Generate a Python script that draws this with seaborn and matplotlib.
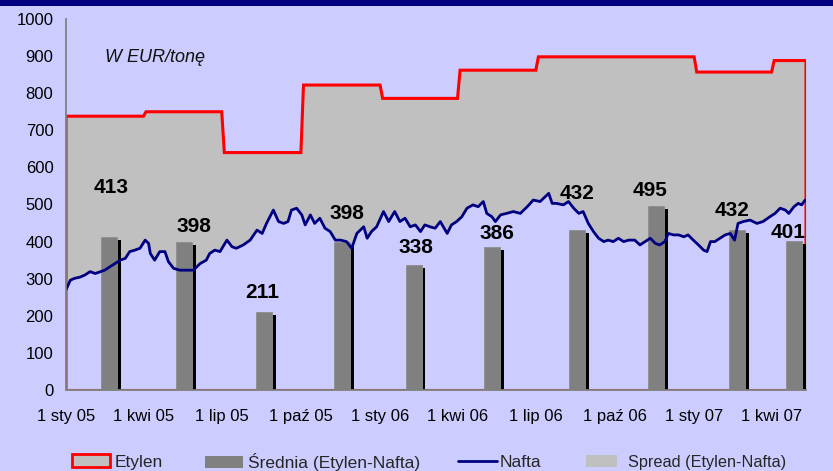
import numpy as np
import seaborn as sns
import matplotlib.pyplot as plt
from matplotlib.patches import Patch, Rectangle
from matplotlib.lines import Line2D

# days counted from 1 Jan 2005
tick_days = [0, 90, 181, 273, 365, 455, 546, 638, 730, 820]
tick_labels = ["1 sty 05", "1 kwi 05", "1 lip 05", "1 paź 05", "1 sty 06",
               "1 kwi 06", "1 lip 06", "1 paź 06", "1 sty 07", "1 kwi 07"]

# Etylen contract price per quarter (start day, price)
etylen_start = [0, 90, 181, 273, 365, 455, 546, 638, 730, 820]
etylen_price = [738, 750, 640, 822, 786, 862, 898, 898, 857, 888]
etylen_end = 860

# Nafta spot price
nafta_day = [0, 5, 10, 16, 22, 28, 34, 40, 45, 51,
             57, 63, 69, 74, 80, 86, 92, 96, 98, 103,
             109, 115, 119, 125, 132, 140, 148, 156, 163, 167,
             173, 179, 187, 193, 198, 206, 214, 222, 228, 233,
             241, 247, 253, 258, 262, 268, 274, 278, 284, 289,
             295, 301, 307, 313, 319, 326, 332, 338, 346, 350,
             355, 361, 369, 375, 382, 388, 394, 400, 406, 412,
             417, 423, 429, 435, 443, 448, 454, 460, 466, 473,
             479, 485, 489, 495, 499, 505, 512, 520, 528, 536,
             543, 551, 557, 561, 565, 570, 578, 584, 590, 596,
             601, 607, 613, 619, 625, 630, 636, 642, 648, 654,
             661, 667, 673, 679, 685, 690, 696, 700, 706, 712,
             718, 723, 729, 735, 741, 745, 749, 754, 760, 766,
             772, 777, 781, 787, 795, 803, 810, 818, 824, 830,
             836, 840, 846, 851, 855, 859]
nafta_val = [270, 296, 301, 304, 310, 319, 314, 319, 323, 332,
             341, 350, 355, 373, 377, 382, 404, 395, 368, 350,
             373, 373, 346, 328, 323, 323, 323, 341, 350, 368,
             377, 373, 404, 386, 382, 391, 404, 431, 422, 449,
             485, 454, 449, 454, 485, 490, 472, 445, 472, 449,
             463, 436, 427, 404, 404, 400, 382, 422, 440, 409,
             427, 440, 481, 454, 481, 454, 463, 440, 445, 427,
             445, 440, 436, 454, 422, 445, 454, 467, 490, 499,
             494, 508, 476, 467, 454, 472, 476, 481, 476, 494,
             512, 508, 521, 530, 503, 503, 499, 508, 490, 476,
             481, 449, 427, 409, 400, 404, 400, 409, 400, 404,
             404, 391, 400, 409, 395, 391, 400, 422, 418, 418,
             413, 418, 404, 391, 377, 373, 400, 400, 409, 418,
             422, 404, 449, 454, 458, 449, 454, 467, 476, 490,
             485, 476, 494, 503, 499, 512]

# quarterly average spread (Etylen-Nafta)
bar_day = [50, 137, 230, 321, 404, 495, 594, 686, 780, 846]
bar_val = [413, 398, 211, 398, 338, 386, 432, 495, 432, 401]

# label placement (layout only)
label_dx = [2, 12, -2, 5, 3, 6, 0, -7, -6, -7]
label_dy = [119, 28, 36, 62, 30, 20, 82, 27, 36, 10]

BG = "#CCCCFF"
NAVY = "#000080"

sns.set_theme(style="white", rc={"axes.facecolor": BG, "figure.facecolor": BG})
plt.rcParams["font.family"] = ["Liberation Sans", "DejaVu Sans"]

fig = plt.figure(figsize=(8.33, 4.71), dpi=100)
ax = fig.add_axes([66 / 833, 1 - 390 / 471, 740 / 833, 371 / 471])

# build the step outline of the Etylen series (short slant at each change)
ex, ey = [0, 0], [0, etylen_price[0]]
for i in range(1, len(etylen_start)):
    ex += [etylen_start[i], etylen_start[i] + 3]
    ey += [etylen_price[i - 1], etylen_price[i]]
ex += [etylen_end, etylen_end]
ey += [etylen_price[-1], 0]

ax.fill_between(ex, ey, color="#C0C0C0", lw=0, zorder=1)
ax.fill_between(nafta_day, nafta_val, color=BG, lw=0, zorder=1.5)
ax.plot([0, etylen_end], [0, 0], color="red", lw=2.2, zorder=1.6)
ax.plot(ex, ey, color="red", lw=2.2, zorder=2, solid_joinstyle="miter")

# bars with black shadow
bw = 18.6
bars = np.array(bar_day)
vals = np.array(bar_val)
ax.bar(bars, vals, width=bw, color="#808080", edgecolor="#8e8e8e", lw=0.6, zorder=3)
ax.bar(bars + bw / 2 + 2.1, vals - 8, width=4.2, color="black", lw=0, zorder=2.9)

sns.lineplot(x=nafta_day, y=nafta_val, color=NAVY, lw=2.0, ax=ax, zorder=4, sort=False)

for d, v, dx, dy in zip(bar_day, bar_val, label_dx, label_dy):
    ax.text(d + dx, v + dy, str(v), ha="center", va="baseline",
            fontsize=15, fontweight="bold", color="black", zorder=5)

ax.text(45, 884, "W EUR/tonę", ha="left", va="baseline", fontsize=13,
        fontstyle="italic", color="#111111")

ax.set_xlim(0, 860)
ax.set_ylim(0, 1000)
ax.set_yticks(range(0, 1001, 100))
ax.set_xticks(tick_days)
ax.set_xticklabels(tick_labels)
ax.tick_params(axis="both", labelsize=12, colors="#808080", labelcolor="black",
               direction="out", length=5, width=1)
ax.tick_params(axis="x", pad=10, length=4)
ax.tick_params(axis="y", pad=4)
for s in ["top", "right"]:
    ax.spines[s].set_visible(False)
for s in ["left", "bottom"]:
    ax.spines[s].set_color("#808080")
    ax.spines[s].set_linewidth(1.3)
    ax.spines[s].set_zorder(6)
ax.set_xlabel("")
ax.set_ylabel("")

# navy band on top
fig.add_artist(Rectangle((0, 1 - 5.5 / 471), 1, 5.5 / 471, transform=fig.transFigure,
                         color=NAVY, lw=0))

# legend entries placed one by one
entries = [
    (Patch(facecolor="#C0C0C0", edgecolor="red", lw=2), "Etylen", 72, 2.19, 0.29, 12.5),
    (Patch(facecolor="#808080", lw=0), "Średnia (Etylen-Nafta)", 205, 2.19, 0.29, 12.5),
    (Line2D([], [], color=NAVY, lw=2), "Nafta", 458, 2.25, 0.17, 12.5),
    (Patch(facecolor="#C0C0C0", lw=0), "Spread (Etylen-Nafta)", 586, 1.9, 0.68, 11.7),
]
for h, lab, px, hl, tp, fs in entries:
    fig.legend([h], [lab], loc="center left", bbox_to_anchor=(px / 833, 0.019),
               frameon=False, fontsize=fs, handlelength=hl, handletextpad=tp,
               borderpad=0, borderaxespad=0)

plt.savefig("out.png", dpi=100, facecolor=BG)
